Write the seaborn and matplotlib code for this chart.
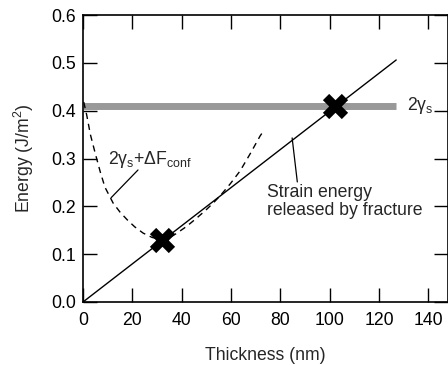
import numpy as np
import pandas as pd
import matplotlib
matplotlib.use("Agg")
import matplotlib.pyplot as plt
import seaborn as sns

# Data
strain_x = [0, 127]
strain_y = [0.0, 0.506]

surface_x = [0, 127]
surface_y = [0.41, 0.41]

curve_x = [0.3, 1.5, 3.0, 4.9, 7.0, 8.9, 12.2, 15.0, 17.9, 21.0, 24.4, 28.0, 32.0, 35.0,
           38.1, 42.0, 46.0, 50.0, 53.0, 55.6, 59.7, 63.7, 67.8, 71.8, 73.5]
curve_y = [0.418, 0.391, 0.35, 0.312, 0.272, 0.24, 0.207, 0.188, 0.172, 0.157, 0.144, 0.135,
           0.13, 0.134, 0.144, 0.158, 0.175, 0.193, 0.208, 0.222, 0.247, 0.274, 0.31, 0.347, 0.36]

cross_x = [32, 102]
cross_y = [0.13, 0.41]

xticks = [0, 20, 40, 60, 80, 100, 120, 140]
yticks = [0.0, 0.1, 0.2, 0.3, 0.4, 0.5, 0.6]

sns.set_theme(style="ticks")
plt.rcParams['font.family'] = ['Liberation Sans', 'DejaVu Sans']
plt.rcParams['mathtext.fontset'] = 'custom'
plt.rcParams['mathtext.rm'] = 'Liberation Sans'
plt.rcParams['mathtext.it'] = 'Liberation Sans'

fs = 12.7
fig = plt.figure(figsize=(4.48, 3.65), dpi=100)
ax = fig.add_axes([83/448, 1-302/365, 1-83/448, (302-15)/365])

df_s = pd.DataFrame({"x": strain_x, "y": strain_y})
df_g = pd.DataFrame({"x": surface_x, "y": surface_y})
df_c = pd.DataFrame({"x": curve_x, "y": curve_y})
df_x = pd.DataFrame({"x": cross_x, "y": cross_y})

sns.lineplot(data=df_g, x="x", y="y", ax=ax, color="#999999", linewidth=5.0,
             estimator=None, sort=False, zorder=1, solid_capstyle="butt")
sns.lineplot(data=df_s, x="x", y="y", ax=ax, color="black", linewidth=1.0,
             estimator=None, sort=False, zorder=2)
ax.plot(df_c["x"], df_c["y"], color="black", linewidth=1.0, dashes=(4.5, 3.5), zorder=2)
sns.scatterplot(data=df_x, x="x", y="y", ax=ax, marker="X", s=330, color="black",
                edgecolor="black", linewidth=0, zorder=4)

ax.set_xlim(0, 148)
ax.set_ylim(0, 0.6)
ax.set_xticks(xticks)
ax.set_yticks(yticks)
ax.set_xticklabels([str(t) for t in xticks])
ax.set_yticklabels([f"{t:.1f}" for t in yticks])
ax.tick_params(direction="in", length=10, width=1.0, top=True, right=True,
               labelsize=fs, colors="black", pad=5)
ax.tick_params(axis="x", pad=7)
for sp in ax.spines.values():
    sp.set_visible(True)
    sp.set_linewidth(1.2)
    sp.set_color("black")

ax.set_xlabel("Thickness (nm)", fontsize=fs, labelpad=13)
ax.set_ylabel(r"Energy (J/m$^2$)", fontsize=fs, labelpad=11)

ax.text(131.5, 0.41, r"2$\gamma_\mathrm{s}$", fontsize=fs, va="center", ha="left")
ax.text(10, 0.297, r"2$\gamma_\mathrm{s}$+$\Delta$F$_\mathrm{conf}$", fontsize=fs,
        va="center", ha="left")
ax.plot([22.3, 11.4], [0.276, 0.218], color="black", linewidth=0.9)

ax.text(74.5, 0.246, "Strain energy\nreleased by fracture", fontsize=fs, va="top",
        ha="left", linespacing=1.02)
ax.plot([84.8, 86.9], [0.343, 0.251], color="black", linewidth=0.9)

fig.savefig("out.png", dpi=100)
